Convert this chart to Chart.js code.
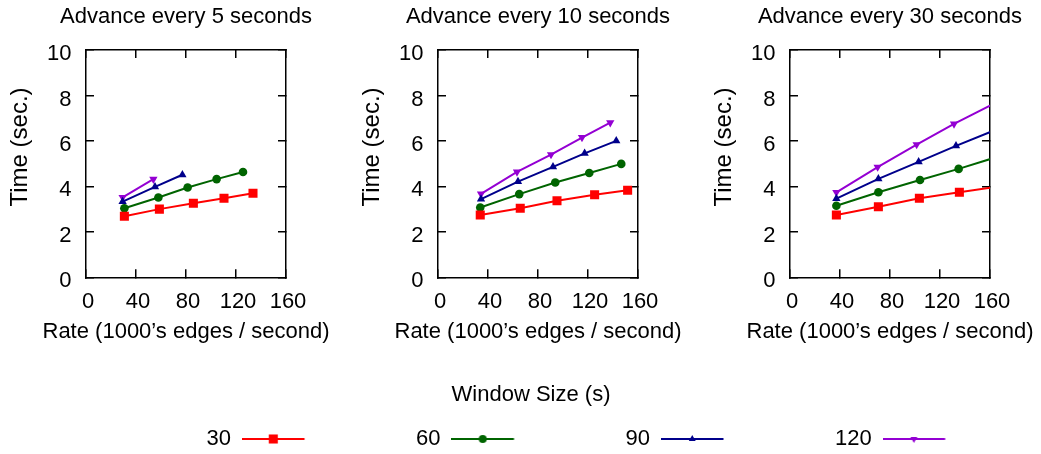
<!DOCTYPE html>
<html lang="en">
<head>
<meta charset="UTF-8">
<title>Time vs rate per window size</title>
<script src="https://cdn.jsdelivr.net/npm/chart.js@4"></script>
<style>
  html, body {
    margin: 0;
    padding: 0;
    background: #ffffff;
    width: 1041px;
    height: 454px;
    overflow: hidden;
  }
  .plot {
    position: absolute;
    top: 0;
  }
  #legendChart {
    position: absolute;
    left: 0;
    top: 340px;
  }
</style>
</head>
<body>
<canvas class="plot" id="chart5" width="372" height="350" style="left:0px"></canvas>
<canvas class="plot" id="chart10" width="372" height="350" style="left:352px"></canvas>
<canvas class="plot" id="chart30" width="372" height="350" style="left:704px"></canvas>
<canvas id="legendChart" width="1100" height="120"></canvas>

<script>
const windowSizes = ["30", "60", "90", "120"];
const seriesColors = ["#ff0000", "#006400", "#00008b", "#9400d3"];
const seriesMarkers = ["rect", "circle", "triangle", "triangle"];
const markerRotation = [0, 0, 0, 180];
const markerRadius = [6.4, 4.3, 4.8, 4.8];
const legendRadius = [6.4, 4.0, 4.0, 4.0];

const panelTitles = ["Advance every 5 seconds", "Advance every 10 seconds", "Advance every 30 seconds"];
const xTicks = [0, 40, 80, 120, 160];
const yTicks = [0, 2, 4, 6, 8, 10];
const xTitle = "Rate (1000\u2019s edges / second)";
const yTitle = "     Time (sec.)";
const legendTitle = "Window Size (s)";

// one row per window size (30, 60, 90, 120)
const rate5 = [
  [30.7, 58.7, 85.9, 110.4, 133.6],
  [30.7, 57.9, 81.3, 104.5, 125.6],
  [29.3, 55.2, 77.1],
  [29.3, 53.9]
];
const time5 = [
  [2.69, 3.00, 3.26, 3.48, 3.70],
  [3.04, 3.51, 3.95, 4.32, 4.63],
  [3.33, 3.98, 4.51],
  [3.52, 4.32]
];

const rate10 = [
  [33.8, 65.8, 95.2, 125.3, 151.7],
  [33.8, 65.0, 93.8, 121.0, 146.6],
  [34.4, 64.0, 92.0, 117.3, 142.6],
  [34.4, 63.2, 90.4, 115.2, 137.8]
];
const time10 = [
  [2.74, 3.04, 3.37, 3.63, 3.83],
  [3.07, 3.66, 4.17, 4.59, 4.99],
  [3.44, 4.21, 4.86, 5.45, 6.00],
  [3.67, 4.64, 5.40, 6.15, 6.80]
];

// last point of each series lies past the 160 edge
const rate30 = [
  [37.1, 70.7, 103.5, 135.5, 168],
  [37.1, 70.7, 104.0, 134.9, 167],
  [37.1, 70.7, 102.9, 132.8, 165],
  [37.1, 70.1, 101.3, 131.2, 167]
];
const time30 = [
  [2.74, 3.10, 3.48, 3.74, 4.01],
  [3.15, 3.74, 4.28, 4.77, 5.32],
  [3.46, 4.33, 5.08, 5.78, 6.50],
  [3.74, 4.85, 5.84, 6.75, 7.75]
];

const ink = "#000000";
const fontFamily = "'Liberation Sans', Arial, Helvetica, sans-serif";
const font22 = { family: fontFamily, size: 22, weight: "normal" };

function tickFrame(position, values, min, max, hidden) {
    return {
        type: "linear",
        axis: position === "top" || position === "bottom" ? "x" : "y",
        position: position,
        min: min,
        max: max,
        afterBuildTicks: (s) => { s.ticks = values.map((v) => ({ value: v })); },
        ticks: { display: !hidden, font: font22, color: ink, autoSkip: false, maxRotation: 0 },
        grid: { drawOnChartArea: false, drawTicks: true, tickLength: -8, color: ink, lineWidth: 1.5 },
        border: { display: true, color: ink, width: 1.5 },
    };
}

function makePanel(canvasId, title, rates, times) {
    const datasets = windowSizes.map((w, i) => ({
        label: w,
        data: rates[i].map((x, j) => ({ x: x, y: times[i][j] })),
        borderColor: seriesColors[i],
        backgroundColor: seriesColors[i],
        borderWidth: 2,
        tension: 0,
        pointStyle: seriesMarkers[i],
        pointRotation: markerRotation[i],
        pointRadius: markerRadius[i],
        pointBorderWidth: 0,
        pointBackgroundColor: seriesColors[i],
    }));

    const x = tickFrame("bottom", xTicks, 0, 160, false);
    x.ticks.padding = 19.4;
    x.ticks.labelOffset = 2;
    x.afterFit = (s) => { s.height = 41.6; };

    const xTop = tickFrame("top", xTicks, 0, 160, true);
    xTop.afterFit = (s) => { s.height = 0; };

    const y = tickFrame("left", yTicks, 0, 10, false);
    y.ticks.padding = 22.5;
    y.ticks.labelOffset = 4;
    y.title = {
        display: true,
        text: yTitle,
        font: { family: fontFamily, size: 24, weight: "normal" },
        color: ink,
        padding: { top: 6, bottom: 0 },
    };
    y.afterFit = (s) => { s.width = 86; };

    // right frame edge; its width mirrors the left side so titles centre on the plot
    const yRight = tickFrame("right", yTicks, 0, 10, true);
    yRight.afterFit = (s) => { s.width = 86; };

    return new Chart(document.getElementById(canvasId), {
        type: "line",
        data: { datasets: datasets },
        options: {
            responsive: false,
            animation: false,
            layout: { padding: 0 },
            plugins: {
                legend: { display: false },
                tooltip: { enabled: false },
                title: {
                    display: true,
                    text: title,
                    fullSize: true,
                    font: font22,
                    color: ink,
                    padding: { top: 4, bottom: 19.6 },
                },
                subtitle: {
                    display: true,
                    position: "bottom",
                    text: xTitle,
                    fullSize: true,
                    font: font22,
                    color: ink,
                    padding: { top: 0, bottom: 4.7 },
                },
            },
            scales: { x: x, xTop: xTop, y: y, yRight: yRight },
        },
    });
}

makePanel("chart5", panelTitles[0], rate5, time5);
makePanel("chart10", panelTitles[1], rate10, time10);
makePanel("chart30", panelTitles[2], rate30, time30);

// legend swatch: a short line with the series marker on it, transparent on the right
const swatchWidth = 166;
function legendSwatch(i) {
    const c = document.createElement("canvas");
    c.width = swatchWidth;
    c.height = 14;
    const g = c.getContext("2d");
    g.strokeStyle = seriesColors[i];
    g.fillStyle = seriesColors[i];
    g.lineWidth = 2;
    g.beginPath();
    g.moveTo(0, 7);
    g.lineTo(62.5, 7);
    g.stroke();
    Chart.helpers.drawPoint(g, {
        pointStyle: seriesMarkers[i],
        rotation: markerRotation[i],
        radius: legendRadius[i],
        borderWidth: 0,
    }, 31.25, 7);
    return c;
}
const swatches = windowSizes.map((w, i) => legendSwatch(i));

const hiddenAxis = (side, width) => ({
    axis: "y",
    position: side,
    ticks: { display: false },
    grid: { display: false },
    border: { display: false },
    afterFit: (s) => { s.width = width; },
});

new Chart(document.getElementById("legendChart"), {
    type: "line",
    data: {
        datasets: windowSizes.map((w, i) => ({ label: w, data: [], borderColor: seriesColors[i] })),
    },
    options: {
        responsive: false,
        animation: false,
        layout: { padding: { left: 0, right: 38, top: 0, bottom: 0 } },
        scales: {
            x: { display: false },
            y: hiddenAxis("left", 196.6),
            y2: hiddenAxis("right", 3.4),
        },
        plugins: {
            tooltip: { enabled: false },
            title: {
                display: true,
                text: legendTitle,
                fullSize: true,
                font: font22,
                color: ink,
                padding: { top: 41.8, bottom: 0 },
            },
            legend: {
                display: true,
                position: "bottom",
                fullSize: false,
                rtl: true,
                reverse: true,
                textDirection: "ltr",
                labels: {
                    font: font22,
                    color: ink,
                    usePointStyle: true,
                    pointStyleWidth: swatchWidth,
                    padding: 8,
                    generateLabels: () => windowSizes.map((w, i) => ({
                        text: w,
                        pointStyle: swatches[i],
                        fillStyle: seriesColors[i],
                        strokeStyle: seriesColors[i],
                        lineWidth: 0,
                        fontColor: ink,
                        hidden: false,
                        datasetIndex: i,
                    })),
                },
            },
        },
    },
});
</script>
</body>
</html>
